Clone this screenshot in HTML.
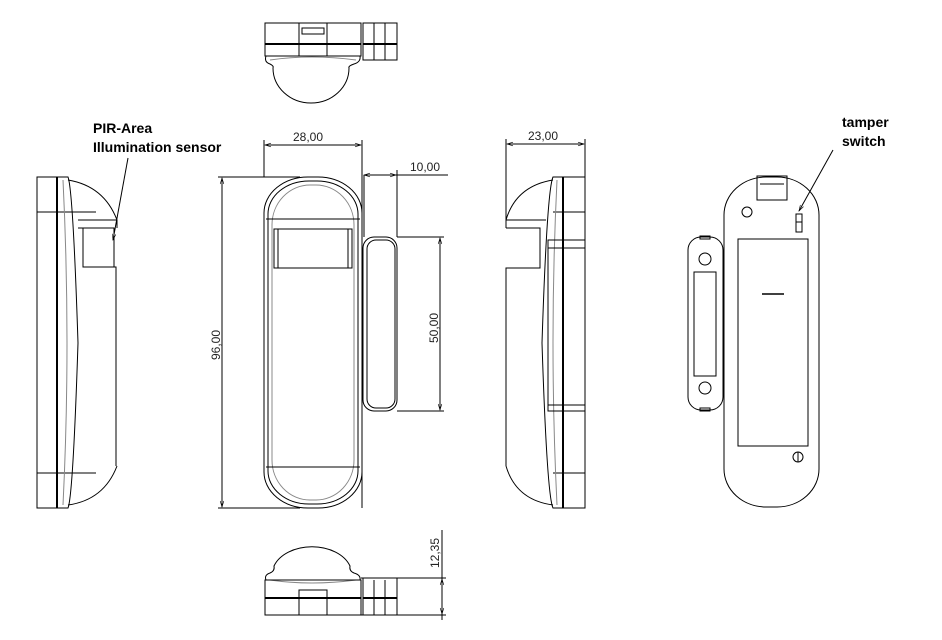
<!DOCTYPE html>
<html><head><style>
html,body{margin:0;padding:0;background:#fff;}
svg{display:block;}
.l{fill:none;stroke:#000;stroke-width:1;}
.t{fill:none;stroke:#000;stroke-width:2;}
.g{fill:none;stroke:#888;stroke-width:1;}
.d{font-family:"Liberation Sans",sans-serif;font-size:12px;fill:#222;}
.b{font-family:"Liberation Sans",sans-serif;font-size:14px;font-weight:bold;fill:#000;}
</style></head><body>
<svg width="942" height="640" viewBox="0 0 942 640" xmlns="http://www.w3.org/2000/svg">
<defs>
<marker id="a" viewBox="0 0 10 10" refX="10" refY="5" markerWidth="8" markerHeight="6" orient="auto-start-reverse"><path d="M0,2 L10,5 L0,8" fill="none" stroke="#000"/></marker>
</defs>

<!-- TOP VIEW -->
<rect class="l" x="265" y="23" width="96" height="33"/>
<line class="t" x1="265" y1="44" x2="361" y2="44"/>
<rect class="l" x="299" y="23" width="28" height="33"/>
<rect class="l" x="302" y="28" width="22" height="6"/>
<path class="l" d="M266,56 Q264,62 270,64 Q274,66 273,68 A38,35 0 0 0 349,68 Q348,66 354,64 Q361,62 360,56"/>
<path class="g" d="M270,60 Q311,54 356,60"/>
<rect class="l" x="363" y="23" width="34" height="37"/>
<line class="l" x1="374" y1="23" x2="374" y2="60"/><line class="l" x1="385" y1="23" x2="385" y2="60"/>
<line class="t" x1="363" y1="44" x2="397" y2="44"/>

<!-- LEFT SIDE VIEW -->
<rect class="l" x="37" y="177" width="20" height="331"/>
<line class="t" x1="57" y1="177" x2="57" y2="508"/>
<line class="l" x1="37" y1="212" x2="96" y2="212"/>
<line class="l" x1="37" y1="473" x2="96" y2="473"/>
<path class="l" d="M57,177 L68,177 Q73,190 78,343 Q73,496 68,508 L57,508"/>
<path class="g" d="M63,180 Q71,343 63,505"/>
<path class="l" d="M68,180 Q104,186 117,220 L117,228"/>
<path class="l" d="M68,505 Q104,500 117,466"/>
<path class="l" d="M78,228 L83,228 L83,267 L116,267 L116,466"/>
<rect class="l" x="83" y="228" width="31" height="39"/>
<line class="l" x1="78" y1="220" x2="117" y2="220"/>

<!-- FRONT VIEW -->
<rect class="l" x="264" y="177" width="98" height="331" rx="44" ry="36"/>
<rect class="l" x="268" y="181" width="90" height="323" rx="41" ry="33"/>
<rect class="g" x="272" y="185" width="82" height="315" rx="38" ry="40"/>
<line class="l" x1="266" y1="219" x2="360" y2="219"/>
<line class="l" x1="266" y1="467" x2="360" y2="467"/>
<rect class="l" x="274" y="229" width="78" height="39"/>
<line class="l" x1="278" y1="229" x2="278" y2="268"/><line class="l" x1="348" y1="229" x2="348" y2="268"/>
<rect class="l" x="363" y="237" width="34" height="174" rx="11"/>
<rect class="l" x="367" y="240" width="28" height="168" rx="9"/>
<line class="l" x1="362" y1="177" x2="362" y2="508"/>
<line class="l" x1="364" y1="175" x2="364" y2="237"/>

<!-- dims front -->
<line class="l" x1="264" y1="140" x2="264" y2="177"/>
<line class="l" x1="362" y1="140" x2="362" y2="177"/>
<line class="l" x1="265" y1="145" x2="361" y2="145" marker-start="url(#a)" marker-end="url(#a)"/>
<text class="d" x="293" y="141">28,00</text>
<line class="l" x1="364" y1="175" x2="396" y2="175" marker-start="url(#a)" marker-end="url(#a)"/>
<line class="l" x1="396" y1="175" x2="448" y2="175"/>
<line class="l" x1="397" y1="170" x2="397" y2="237"/>
<text class="d" x="410" y="171">10,00</text>
<line class="l" x1="218" y1="177" x2="300" y2="177"/>
<line class="l" x1="218" y1="508" x2="300" y2="508"/>
<line class="l" x1="222" y1="178" x2="222" y2="507" marker-start="url(#a)" marker-end="url(#a)"/>
<text class="d" transform="translate(220,360) rotate(-90)">96,00</text>
<line class="l" x1="397" y1="237" x2="444" y2="237"/>
<line class="l" x1="397" y1="411" x2="444" y2="411"/>
<line class="l" x1="440" y1="238" x2="440" y2="410" marker-start="url(#a)" marker-end="url(#a)"/>
<text class="d" transform="translate(438,343) rotate(-90)">50,00</text>

<!-- RIGHT SIDE VIEW -->
<rect class="l" x="563" y="177" width="22" height="331"/>
<line class="t" x1="563" y1="177" x2="563" y2="508"/>
<line class="l" x1="553" y1="212" x2="585" y2="212"/>
<line class="l" x1="553" y1="473" x2="585" y2="473"/>
<path class="l" d="M563,177 L553,177 Q547,190 542,343 Q547,496 553,508 L563,508"/>
<path class="g" d="M557,180 Q549,343 557,505"/>
<path class="l" d="M553,180 Q516,186 506,220 L506,228"/>
<path class="l" d="M553,505 Q516,500 506,466"/>
<path class="l" d="M506,228 L540,228 L540,268 L506,268 L506,466"/>
<line class="l" x1="506" y1="220" x2="546" y2="220"/>
<rect class="l" x="548" y="240" width="37" height="171"/>
<line class="l" x1="548" y1="248" x2="585" y2="248"/>
<line class="l" x1="548" y1="405" x2="585" y2="405"/>
<line class="l" x1="506" y1="139" x2="506" y2="220"/>
<line class="l" x1="585" y1="139" x2="585" y2="177"/>
<line class="l" x1="507" y1="144" x2="584" y2="144" marker-start="url(#a)" marker-end="url(#a)"/>
<text class="d" x="528" y="140">23,00</text>

<!-- BACK VIEW -->
<rect class="l" x="724" y="177" width="95" height="330" rx="42" ry="38"/>
<rect class="l" x="757" y="176" width="30" height="24"/>
<line class="l" x1="760" y1="184" x2="784" y2="184"/>
<circle class="l" cx="747" cy="212" r="5"/>
<rect class="l" x="796" y="214" width="6" height="18"/>
<line class="l" x1="796" y1="222" x2="802" y2="222"/>
<rect class="l" x="738" y="239" width="70" height="207"/>
<line class="l" x1="762" y1="294" x2="784" y2="294" style="stroke-width:1.5"/>
<circle class="l" cx="798" cy="457" r="5"/>
<line class="l" x1="798" y1="452" x2="798" y2="462"/>
<rect class="l" x="688" y="237" width="35" height="173" rx="13"/>
<rect class="l" x="694" y="272" width="22" height="104"/>
<circle class="l" cx="705" cy="259" r="6"/>
<circle class="l" cx="705" cy="388" r="6"/>
<rect class="l" x="700" y="236" width="10" height="3"/>
<rect class="l" x="700" y="408" width="10" height="3"/>

<!-- BOTTOM VIEW -->
<path class="l" d="M266,580 Q264,575 270,573 Q275,571 274,566 A40,28 0 0 1 350,566 Q349,571 354,573 Q361,575 360,580"/>
<path class="g" d="M270,580 Q311,586 356,580"/>
<rect class="l" x="265" y="580" width="96" height="35"/>
<line class="t" x1="265" y1="598" x2="361" y2="598"/>
<rect class="l" x="299" y="590" width="28" height="25"/>
<rect class="l" x="363" y="578" width="34" height="37"/>
<line class="l" x1="374" y1="580" x2="374" y2="615"/><line class="l" x1="385" y1="580" x2="385" y2="615"/>
<line class="t" x1="363" y1="598" x2="397" y2="598"/>
<line class="l" x1="361" y1="578" x2="446" y2="578"/>
<line class="l" x1="361" y1="615" x2="446" y2="615"/>
<line class="l" x1="442" y1="530" x2="442" y2="620"/>
<line class="l" x1="442" y1="592" x2="442" y2="579" marker-end="url(#a)"/>
<line class="l" x1="442" y1="600" x2="442" y2="614" marker-end="url(#a)"/>
<text class="d" transform="translate(439,568) rotate(-90)">12,35</text>

<!-- LABELS -->
<text class="b" x="93" y="133">PIR-Area</text>
<text class="b" x="93" y="152">Illumination sensor</text>
<line class="l" x1="128" y1="158" x2="113" y2="240" marker-end="url(#a)"/>
<text class="b" x="842" y="127">tamper</text>
<text class="b" x="842" y="146">switch</text>
<line class="l" x1="833" y1="150" x2="799" y2="211" marker-end="url(#a)"/>
</svg>
</body></html>
